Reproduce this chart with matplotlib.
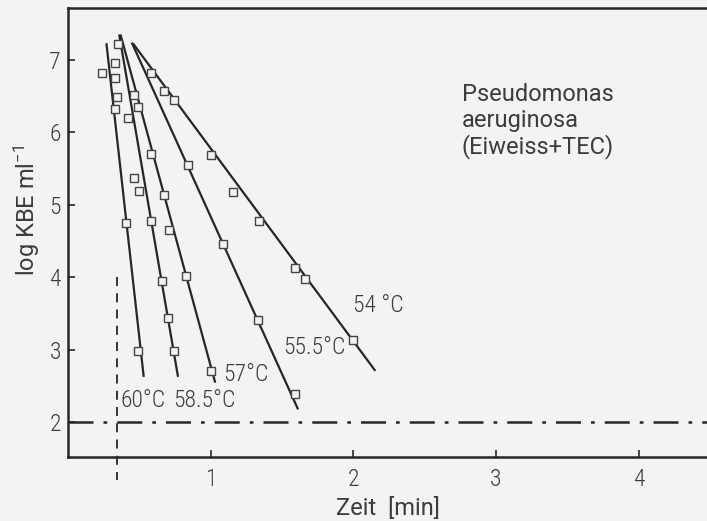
import matplotlib
matplotlib.use('Agg')
import matplotlib.pyplot as plt
from matplotlib import font_manager

# Survival curves of Pseudomonas aeruginosa at several temperatures.
temps = ['60°C', '58.5°C', '57°C', '55.5°C', '54 °C']

t_60 = [0.33, 0.24, 0.33, 0.34, 0.33, 0.41, 0.49]
y_60 = [6.95, 6.82, 6.74, 6.48, 6.32, 4.74, 2.98]
t_585 = [0.35, 0.42, 0.46, 0.50, 0.58, 0.66, 0.70, 0.74]
y_585 = [7.21, 6.20, 5.37, 5.19, 4.78, 3.95, 3.44, 2.98]
t_57 = [0.46, 0.49, 0.58, 0.67, 0.71, 0.83, 1.00]
y_57 = [6.51, 6.35, 5.70, 5.13, 4.65, 4.02, 2.71]
t_555 = [0.84, 1.09, 1.33, 1.59]
y_555 = [5.54, 4.45, 3.41, 2.39]
t_54 = [0.58, 0.67, 0.74, 1.00, 1.16, 1.34, 1.59, 1.66, 2.00]
y_54 = [6.81, 6.56, 6.44, 5.68, 5.18, 4.78, 4.12, 3.97, 3.13]

# Fitted lines: start and end points.
fit_t = [[0.27, 0.53], [0.36, 0.77], [0.37, 1.03], [0.45, 1.61], [0.46, 2.15]]
fit_y = [[7.21, 2.64], [7.33, 2.64], [7.33, 2.56], [7.22, 2.19], [7.21, 2.72]]

# Label anchors (left edge, centre) for each curve.
label_t = [0.37, 0.74, 1.09, 1.51, 2.00]
label_y = [2.30, 2.30, 2.66, 3.03, 3.61]

detect_limit = 2.0   # dash-dot line
heat_up = 0.34       # dashed vertical line
x_ticks = [1, 2, 3, 4]
y_ticks = [2, 3, 4, 5, 6, 7]

ink = '#262626'
txt = '#3c3c3c'
paper = '#f3f3f1'
fs = 17

# the drawing uses a thin DIN-like face: narrow digits, wider lowercase
names = {f.name for f in font_manager.fontManager.ttflist}
narrow = 'Roboto Condensed' if 'Roboto Condensed' in names else 'DejaVu Sans'
wide = 'Roboto' if 'Roboto' in names else 'DejaVu Sans'
plt.rcParams['font.family'] = [narrow, 'DejaVu Sans']
plt.rcParams['font.weight'] = 'light'
plt.rcParams['mathtext.fontset'] = 'custom'
plt.rcParams['mathtext.rm'] = wide + ':weight=normal'
plt.rcParams['mathtext.it'] = wide + ':weight=normal'

wide_font = dict(family=[wide, 'DejaVu Sans'], fontweight='normal',
                 fontsize=fs, color=txt)

fig = plt.figure(figsize=(7.07, 5.21), dpi=100, facecolor=paper)
ax = fig.add_axes([0.0962, 0.1228, 0.9038, 0.8618], facecolor=paper)

for tt, yy in zip(fit_t, fit_y):
    ax.plot(tt, yy, c=ink, lw=1.6, zorder=2)

for tt, yy in [(t_60, y_60), (t_585, y_585), (t_57, y_57),
               (t_555, y_555), (t_54, y_54)]:
    ax.plot(tt, yy, ls='none', marker='s', ms=5.5, mfc=paper,
            mec='#444444', mew=1.0, zorder=3)

for name, tx, ty in zip(temps, label_t, label_y):
    ax.text(tx, ty, name, fontsize=fs, color=txt, va='center', ha='left')

ax.text(2.76, 6.67, 'Pseudomonas\naeruginosa\n(Eiweiss+TEC)',
        va='top', ha='left', linespacing=1.12, **wide_font)

ax.axhline(detect_limit, c=ink, lw=1.8, dashes=(10, 4, 1.5, 4))
ax.plot([heat_up, heat_up], [4.0, 1.2], c=ink, lw=1.3, ls=(0, (5, 4)),
        clip_on=False)

ax.set_xlim(0, 4.48)
ax.set_ylim(1.52, 7.71)
ax.set_xticks(x_ticks)
ax.set_yticks(y_ticks)
ax.tick_params(direction='in', length=5, width=1.2, colors=ink,
               labelcolor=txt, labelsize=fs)
ax.tick_params(axis='x', pad=8)
ax.tick_params(axis='y', pad=5)
for side in ['left', 'bottom', 'top']:
    ax.spines[side].set_linewidth(1.8)
    ax.spines[side].set_color(ink)
ax.spines['right'].set_visible(False)

ax.set_xlabel('Zeit  [min]', **wide_font)
ax.xaxis.set_label_coords(0.5, -0.088)
ax.set_ylabel('log KBE ml$^{-1}$', **wide_font)
ax.yaxis.set_label_coords(-0.04, 0.55)

fig.savefig('out.png', dpi=100, facecolor=paper)
